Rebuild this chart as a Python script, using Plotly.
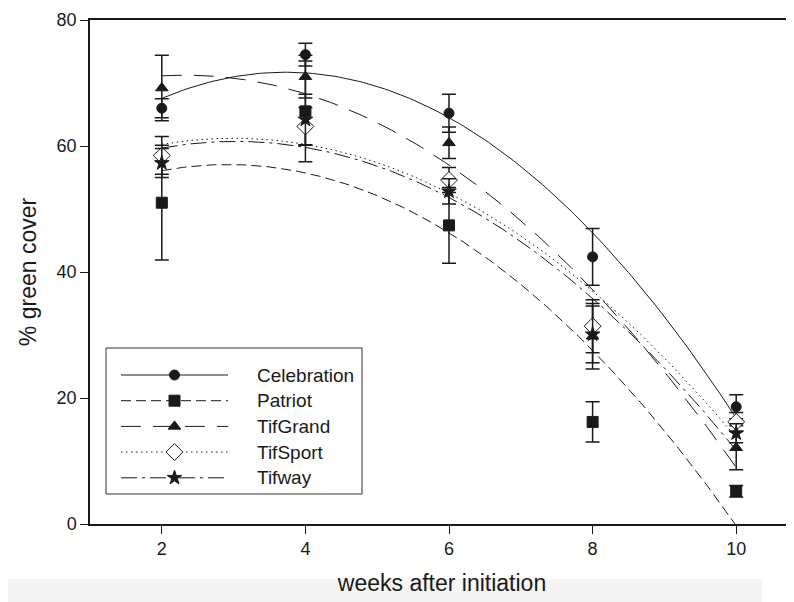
import numpy as np
import plotly.graph_objects as go

weeks = [2, 4, 6, 8, 10]
series_names = ["Celebration", "Patriot", "TifGrand", "TifSport", "Tifway"]
celebration = [66.0, 74.5, 65.2, 42.4, 18.6]
celebration_err = [1.5, 1.8, 3.0, 4.5, 1.9]
patriot = [51.0, 65.5, 47.4, 16.2, 5.2]
patriot_err = [9.1, 8.0, 6.0, 3.2, 0.9]
tifgrand = [69.2, 71.0, 60.5, 29.8, 12.1]
tifgrand_err = [5.2, 3.4, 2.5, 5.2, 3.5]
tifsport = [58.5, 63.1, 54.6, 31.4, 16.2]
tifsport_err = [3.0, 3.0, 2.0, 4.2, 1.5]
tifway = [57.3, 64.2, 52.8, 30.1, 14.4]
tifway_err = [2.3, 4.0, 2.0, 4.5, 1.5]
x_ticks = [2, 4, 6, 8, 10]
y_ticks = [0, 20, 40, 60, 80]

values = [celebration, patriot, tifgrand, tifsport, tifway]
errors = [celebration_err, patriot_err, tifgrand_err, tifsport_err, tifway_err]

INK = "#1a1a1a"
styles = [
    dict(dash="solid", symbol="circle", size=10, fill=INK),
    dict(dash="10px,5px", symbol="square", size=11, fill=INK),
    dict(dash="20px,12px", symbol="triangle-up", size=11, fill=INK),
    dict(dash="1.5px,3.5px", symbol="diamond", size=13, fill="white"),
    dict(dash="16px,5px,3px,5px", symbol="star", size=11, fill=INK),
]

# page offset (body margin) and figure geometry
OFF = 8
FIG_W, FIG_H = 794 - OFF, 602 - OFF
plot_l, plot_t, plot_w, plot_h = 90 - OFF, 20 - OFF, 794 - 90, 504
px_per_week = 71.8

fig = go.Figure()

xs_fit = np.linspace(min(weeks), max(weeks), 161)
for name, vals, errs, st in zip(series_names, values, errors, styles):
    coef = np.polyfit(weeks, vals, 2)
    fig.add_trace(go.Scatter(
        x=xs_fit, y=np.polyval(coef, xs_fit), mode="lines",
        line=dict(color=INK, width=1, dash=st["dash"]),
        showlegend=False, hoverinfo="skip"))
for name, vals, errs, st in zip(series_names, values, errors, styles):
    fig.add_trace(go.Scatter(
        x=weeks, y=vals, mode="markers", name=name,
        marker=dict(symbol=st["symbol"], size=st["size"], color=st["fill"],
                    line=dict(color=INK, width=1)),
        error_y=dict(type="data", array=errs, visible=True, color=INK,
                     thickness=1.5, width=7),
        showlegend=False))

# Manual legend drawn on its own small axes (page-pixel units)
leg_left, leg_right, leg_top, leg_bottom = 106, 362, 348, 494
row0, row_step = 375, 25.7
line_x0, line_x1, text_x = 121, 228, 255
for i, (name, st) in enumerate(zip(series_names, styles)):
    ry = row0 + i * row_step
    fig.add_trace(go.Scatter(
        x=[line_x0, line_x1], y=[ry, ry], mode="lines", xaxis="x2", yaxis="y2",
        line=dict(color=INK, width=1, dash=st["dash"]),
        showlegend=False, hoverinfo="skip"))
    fig.add_trace(go.Scatter(
        x=[(line_x0 + line_x1) / 2], y=[ry], mode="markers", xaxis="x2", yaxis="y2",
        marker=dict(symbol=st["symbol"], size=st["size"], color=st["fill"],
                    line=dict(color=INK, width=1)),
        showlegend=False, hoverinfo="skip"))
    fig.add_annotation(x=text_x, y=ry, xref="x2", yref="y2", text=name,
                       showarrow=False, xanchor="left", yanchor="middle",
                       font=dict(family="Arial", size=19, color=INK))

def px_to_paper_x(px):
    return (px - OFF - plot_l) / plot_w

def px_to_paper_y(py):
    return (plot_t + plot_h - (py - OFF)) / plot_h

fig.add_shape(type="rect", xref="paper", yref="paper",
              x0=px_to_paper_x(leg_left), x1=px_to_paper_x(leg_right),
              y0=px_to_paper_y(leg_bottom), y1=px_to_paper_y(leg_top),
              line=dict(color="#333333", width=1), fillcolor="rgba(0,0,0,0)")

# faint grey strip at the bottom of the image
fig.add_shape(type="rect", xref="paper", yref="paper", layer="below",
              x0=px_to_paper_x(0), x1=px_to_paper_x(762),
              y0=px_to_paper_y(610), y1=px_to_paper_y(579),
              line=dict(width=0), fillcolor="#f5f5f5")

fig.update_layout(
    width=FIG_W, height=FIG_H,
    margin=dict(l=plot_l, r=FIG_W - plot_l - plot_w, t=plot_t,
                b=FIG_H - plot_t - plot_h, autoexpand=False),
    paper_bgcolor="white", plot_bgcolor="white",
    font=dict(family="Arial", color=INK),
    xaxis=dict(range=[1, 1 + plot_w / px_per_week], tickvals=x_ticks, ticks="outside",
               ticklen=8, tickwidth=1, tickcolor=INK, showline=True, linecolor=INK,
               linewidth=1.5, mirror=True, showgrid=False, zeroline=False,
               automargin=False, tickfont=dict(size=18),
               title=dict(text="weeks after initiation", font=dict(size=23), standoff=17)),
    yaxis=dict(range=[0, 80], tickvals=y_ticks, ticks="outside", ticklen=8,
               tickwidth=1, tickcolor=INK, showline=True, linecolor=INK, linewidth=1.5,
               showgrid=False, zeroline=False, automargin=False, tickfont=dict(size=18),
               title=dict(text="% green cover", font=dict(size=23), standoff=14)),
    xaxis2=dict(domain=[px_to_paper_x(leg_left), px_to_paper_x(leg_right)],
                range=[leg_left, leg_right], visible=False, anchor="y2"),
    yaxis2=dict(domain=[px_to_paper_y(leg_bottom), px_to_paper_y(leg_top)],
                range=[leg_bottom, leg_top], visible=False, anchor="x2"),
    showlegend=False,
)

fig.write_html("out.html")
